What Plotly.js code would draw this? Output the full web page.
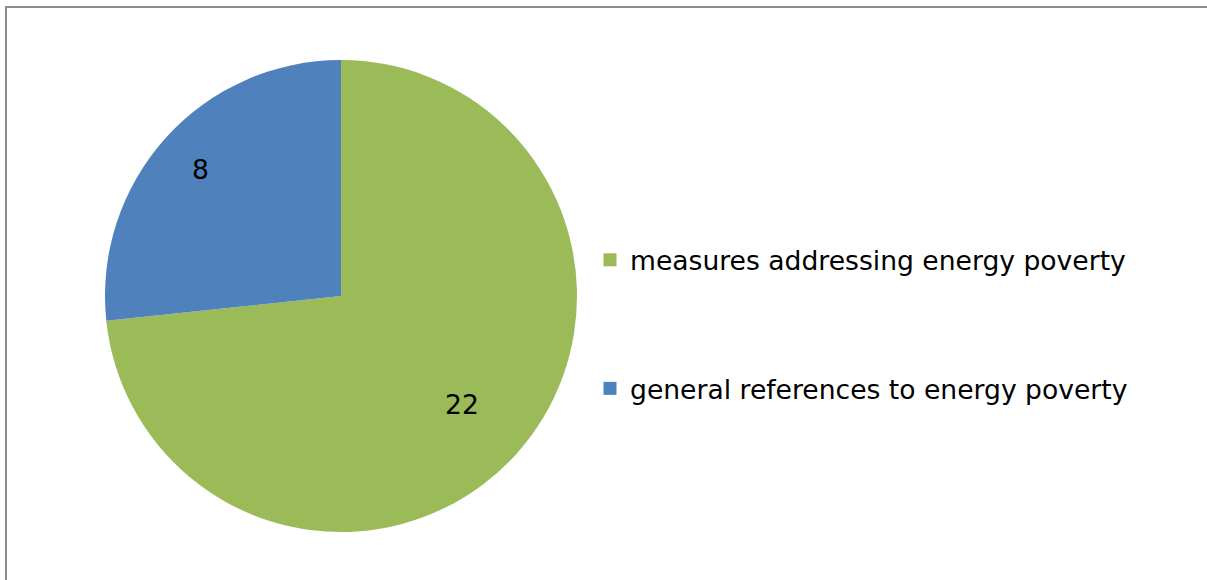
<!DOCTYPE html>
<html>
<head>
<meta charset="utf-8">
<script src="https://cdn.plot.ly/plotly-3.0.1.min.js"></script>
<style>html,body{margin:0;padding:0;background:#fff;}#chart{width:1207px;height:580px;}</style>
</head>
<body>
<div id="chart"></div>
<script>
const categories = ["measures addressing energy poverty", "general references to energy poverty"];
const values = [22, 8];
const colors = ["#9BBB59", "#4F81BD"];

const W = 1207, H = 580;
const FONT = "DejaVu Sans, Verdana, sans-serif";
const FS = 26.6;

const cx = 341, cy = 296, R = 236;
const labelRadius = [0.69, 0.80];

const traces = [{
  type: "pie",
  labels: categories,
  values: values,
  marker: { colors: colors, line: { width: 0 } },
  sort: false,
  direction: "clockwise",
  rotation: 0,
  textinfo: "none",
  hoverinfo: "label+value",
  showlegend: false,
  domain: { x: [(cx - R) / W, (cx + R) / W], y: [(H - cy - R) / H, (H - cy + R) / H] }
}];

categories.forEach((c, i) => {
  traces.push({
    type: "scatter",
    mode: "markers",
    x: [null], y: [null],
    name: c,
    legendgroup: "g" + i,
    marker: { symbol: "square", size: 13, color: colors[i] },
    showlegend: true,
    hoverinfo: "skip"
  });
});

// value labels placed at each slice's mid-angle
const total = values.reduce((a, b) => a + b, 0);
let cum = 0;
const annotations = values.map((v, i) => {
  const mid = (cum + v / 2) / total * 2 * Math.PI;
  cum += v;
  const r = labelRadius[i] * R;
  return {
    xref: "paper", yref: "paper",
    x: (cx + r * Math.sin(mid)) / W,
    y: 1 - (cy - r * Math.cos(mid)) / H,
    text: String(v),
    showarrow: false,
    xanchor: "center", yanchor: "middle",
    font: { family: FONT, size: FS, color: "#000000" }
  };
});

const layout = {
  width: W, height: H,
  margin: { l: 0, r: 0, t: 0, b: 0 },
  paper_bgcolor: "#ffffff",
  plot_bgcolor: "#ffffff",
  xaxis: { visible: false }, yaxis: { visible: false },
  showlegend: true,
  legend: {
    x: 590 / W, xanchor: "left",
    y: 1 - 236 / H, yanchor: "top",
    font: { family: FONT, size: FS, color: "#000000" },
    tracegroupgap: 91,
    traceorder: "grouped",
    bgcolor: "rgba(0,0,0,0)",
    itemclick: false
  },
  annotations: annotations,
  shapes: [
    { type: "line", xref: "paper", yref: "paper", x0: 6 / W, x1: 6 / W, y0: 0, y1: 1 - 6 / H, line: { color: "#8c8c8c", width: 2 } },
    { type: "line", xref: "paper", yref: "paper", x0: 5 / W, x1: 1, y0: 1 - 7 / H, y1: 1 - 7 / H, line: { color: "#8c8c8c", width: 2 } }
  ]
};

Plotly.newPlot("chart", traces, layout, { staticPlot: true });
</script>
</body>
</html>
